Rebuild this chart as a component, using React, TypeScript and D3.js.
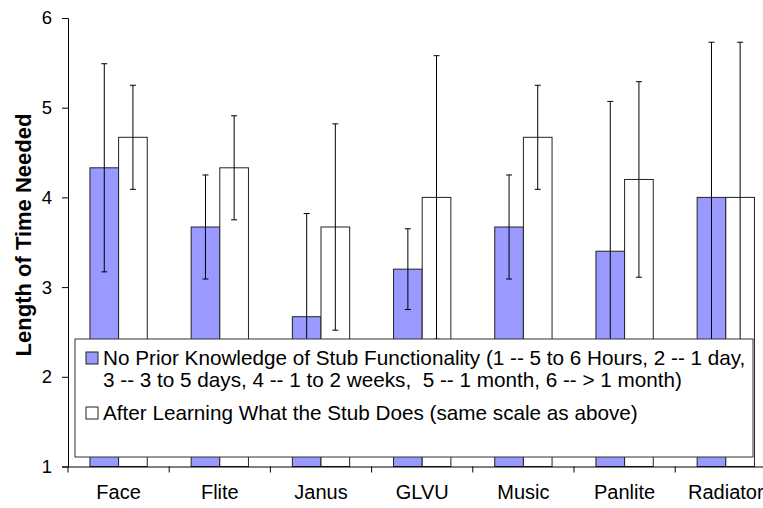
import React, { useRef, useEffect } from 'react';
import * as d3 from 'd3';

const categories = ['Face', 'Flite', 'Janus', 'GLVU', 'Music', 'Panlite', 'Radiator'];
const beforeValues = [4.33, 3.67, 2.67, 3.2, 3.67, 3.4, 4.0];
const afterValues = [4.67, 4.33, 3.67, 4.0, 4.67, 4.2, 4.0];
const beforeErrors = [1.16, 0.58, 1.15, 0.45, 0.58, 1.67, 1.73];
const afterErrors = [0.58, 0.58, 1.15, 1.58, 0.58, 1.09, 1.73];
const yTicks = [1, 2, 3, 4, 5, 6];
const legendLabels = [
  ['No Prior Knowledge of Stub Functionality (1 -- 5 to 6 Hours, 2 -- 1 day,', '3 -- 3 to 5 days, 4 -- 1 to 2 weeks,  5 -- 1 month, 6 -- > 1 month)'],
  ['After Learning What the Stub Does (same scale as above)'],
];
const seriesKeys = ['before', 'after'];
const seriesFill = ['#9999ff', '#ffffff'];

const FONT = 'Arial, "Liberation Sans", sans-serif';

const App: React.FC = () => {
  const svgRef = useRef<SVGSVGElement>(null);

  useEffect(() => {
    const width = 763;
    const height = 508;
    const margin = { top: 18, left: 68 };
    const plotBottom = 466.5;
    const plotRight = 776.4;

    const svg = d3.select(svgRef.current).attr('width', width).attr('height', height);
    svg.selectAll('*').remove();

    const x0 = d3.scaleBand<string>().domain(categories).range([margin.left, plotRight]).padding(0);
    const x1 = d3
      .scaleBand<string>()
      .domain(seriesKeys)
      .range([0, x0.step()])
      .paddingInner(0)
      .paddingOuter(0.766);
    const y = d3.scaleLinear().domain([1, 6]).range([plotBottom, margin.top]);

    // bars
    const rows = categories.map((c, i) => ({
      cat: c,
      vals: [
        { key: 'before', v: beforeValues[i], e: beforeErrors[i] },
        { key: 'after', v: afterValues[i], e: afterErrors[i] },
      ],
    }));

    const groups = svg
      .append('g')
      .selectAll('g')
      .data(rows)
      .join('g')
      .attr('transform', (d) => `translate(${x0(d.cat)},0)`);

    groups
      .selectAll('rect')
      .data((d) => d.vals)
      .join('rect')
      .attr('x', (d) => x1(d.key) as number)
      .attr('width', x1.bandwidth())
      .attr('y', (d) => y(d.v))
      .attr('height', (d) => y(1) - y(d.v))
      .attr('fill', (d, i) => seriesFill[i])
      .attr('stroke', '#222')
      .attr('stroke-width', 1);

    // error bars
    const cap = 3;
    groups.each(function (d) {
      const g = d3.select(this);
      d.vals.forEach((s) => {
        const cx = (x1(s.key) as number) + x1.bandwidth() / 2;
        const hi = y(s.v + s.e);
        const lo = y(Math.max(1, s.v - s.e));
        g.append('line').attr('x1', cx).attr('x2', cx).attr('y1', hi).attr('y2', lo).attr('stroke', '#000').attr('stroke-width', 1);
        g.append('line').attr('x1', cx - cap).attr('x2', cx + cap).attr('y1', hi).attr('y2', hi).attr('stroke', '#000').attr('stroke-width', 1);
        if (s.v - s.e > 1) {
          g.append('line').attr('x1', cx - cap).attr('x2', cx + cap).attr('y1', lo).attr('y2', lo).attr('stroke', '#000').attr('stroke-width', 1);
        }
      });
    });

    // y axis
    const yAxis = svg
      .append('g')
      .attr('transform', `translate(${margin.left},0)`)
      .call(d3.axisLeft(y).tickValues(yTicks).tickFormat(d3.format('d')).tickSize(6).tickPadding(10));
    yAxis.select('.domain').attr('stroke', '#000');
    yAxis.selectAll('text').attr('font-family', FONT).attr('font-size', 18.5).attr('fill', '#000');

    // x axis
    const xAxis = svg
      .append('g')
      .attr('transform', `translate(0,${plotBottom})`)
      .call(d3.axisBottom(x0).tickSize(0).tickPadding(18).tickSizeOuter(0));
    xAxis.select('.domain').attr('stroke', '#000');
    xAxis.selectAll('text').attr('font-family', FONT).attr('font-size', 20).attr('fill', '#000');
    xAxis
      .selectAll('line.bound')
      .data(categories.map((c) => x0(c) as number).concat([plotRight]))
      .join('line')
      .attr('class', 'bound')
      .attr('x1', (d) => d)
      .attr('x2', (d) => d)
      .attr('y1', 0)
      .attr('y2', 6)
      .attr('stroke', '#000');

    // y title
    svg
      .append('text')
      .attr('transform', `translate(31,235) rotate(-90)`)
      .attr('text-anchor', 'middle')
      .attr('font-family', FONT)
      .attr('font-weight', 'bold')
      .attr('font-size', 22)
      .text('Length of Time Needed');

    // legend
    const legend = svg.append('g');
    legend
      .append('rect')
      .attr('x', 75)
      .attr('y', 339)
      .attr('width', 678)
      .attr('height', 118)
      .attr('fill', '#fff')
      .attr('stroke', '#333')
      .attr('stroke-width', 1);

    const lineY = [[365, 387], [420]];
    legendLabels.forEach((lines, i) => {
      legend
        .append('rect')
        .attr('x', 86)
        .attr('y', lineY[i][0] - 13)
        .attr('width', 12)
        .attr('height', 12)
        .attr('fill', seriesFill[i])
        .attr('stroke', '#222');
      lines.forEach((t, j) => {
        legend
          .append('text')
          .attr('x', 103)
          .attr('y', lineY[i][j])
          .attr('font-family', FONT)
          .attr('font-size', 20.7)
          .attr('fill', '#000')
          .style('white-space', 'pre')
          .text(t);
      });
    });
  }, []);

  return (
    <div style={{ position: 'absolute', left: 0, top: 0 }}>
      <svg ref={svgRef} style={{ display: 'block', background: '#fff' }} />
    </div>
  );
};

export default App;
